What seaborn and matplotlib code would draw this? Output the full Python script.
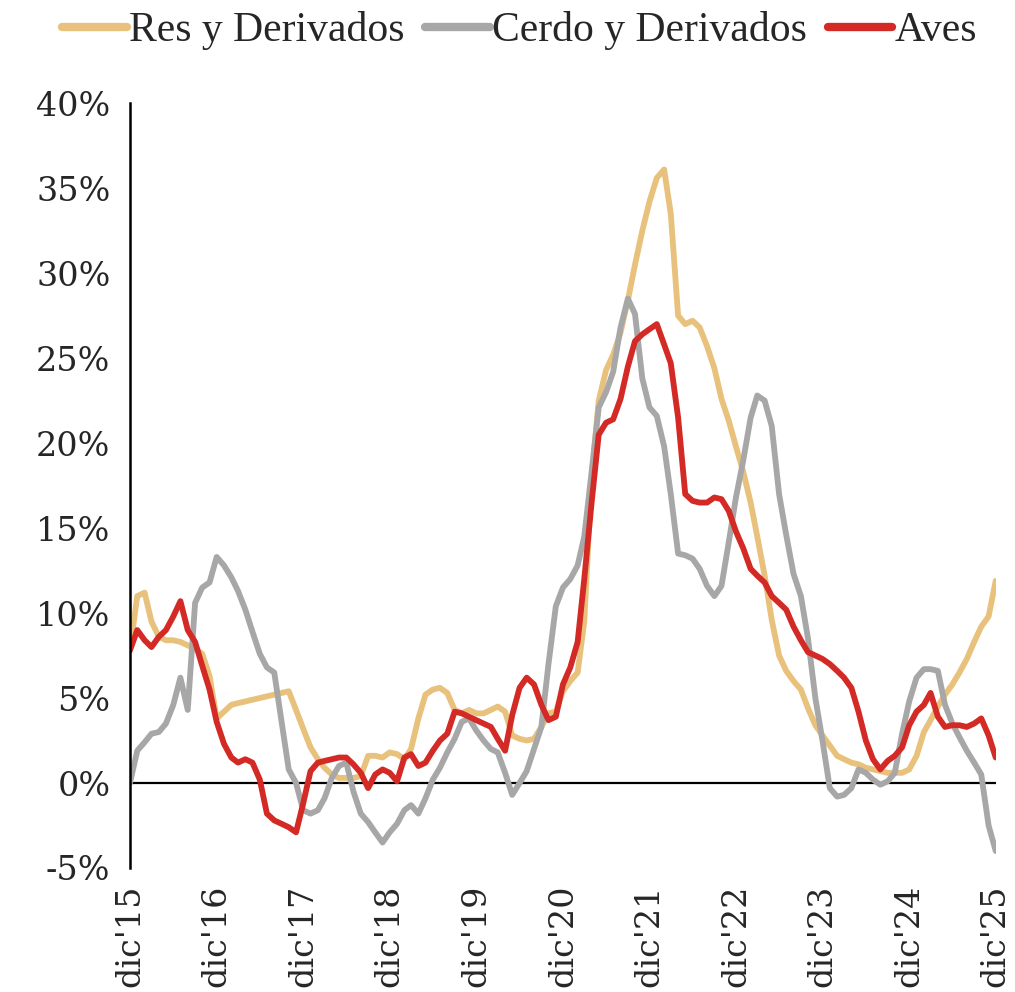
import pandas as pd
import matplotlib.pyplot as plt
import seaborn as sns

# variacion anual (%) mensual, dic'15 -> dic'25
res = [7.8, 11.0, 11.2, 9.5, 8.6, 8.4, 8.4, 8.3, 8.1, 7.9, 7.6, 6.3, 3.8, 4.2, 4.6, 4.7, 4.8, 4.9, 5.0, 5.1,
       5.2, 5.3, 5.4, 4.3, 3.2, 2.1, 1.4, 0.9, 0.5, 0.3, 0.3, 0.3, 0.4, 1.6, 1.6, 1.5, 1.8, 1.7, 1.4, 2.0,
       3.8, 5.2, 5.5, 5.6, 5.3, 4.3, 4.1, 4.3, 4.1, 4.1, 4.3, 4.5, 4.2, 2.8, 2.6, 2.5, 2.6, 3.3, 4.1, 4.2,
       5.4, 6.0, 6.5, 9.5, 18.0, 22.5, 24.3, 25.2, 26.5, 28.4, 30.5, 32.5, 34.2, 35.6, 36.1, 33.5, 27.5, 27.0, 27.2, 26.8,
       25.7, 24.4, 22.6, 21.3, 19.8, 18.3, 16.5, 14.5, 12.2, 9.6, 7.5, 6.6, 6.0, 5.5, 4.4, 3.4, 2.8, 2.2, 1.6, 1.4,
       1.2, 1.1, 0.9, 0.8, 0.7, 0.6, 0.6, 0.6, 0.8, 1.6, 3.0, 3.7, 4.5, 5.2, 5.8, 6.5, 7.3, 8.3, 9.2, 9.8,
       11.9]
cerdo = [0.0, 1.9, 2.4, 2.9, 3.0, 3.5, 4.6, 6.2, 4.3, 10.6, 11.5, 11.8, 13.3, 12.8, 12.1, 11.3, 10.2, 8.9, 7.6, 6.8,
         6.5, 3.6, 0.8, 0.0, -1.6, -1.8, -1.6, -0.9, 0.3, 1.0, 1.2, -0.5, -1.8, -2.3, -2.9, -3.5, -2.9, -2.4, -1.6, -1.3,
         -1.8, -0.9, 0.2, 0.9, 1.8, 2.6, 3.6, 3.8, 3.1, 2.5, 2.0, 1.8, 0.6, -0.7, 0.0, 0.7, 2.0, 3.3, 7.0, 10.4,
         11.5, 12.0, 12.8, 14.5, 18.3, 22.1, 23.0, 24.2, 26.8, 28.5, 27.6, 23.8, 22.1, 21.6, 19.8, 17.0, 13.5, 13.4, 13.2, 12.6,
         11.6, 11.0, 11.6, 14.2, 16.8, 19.0, 21.5, 22.8, 22.5, 21.0, 17.0, 14.6, 12.3, 11.0, 8.5, 5.0, 2.5, -0.3, -0.8, -0.7,
         -0.3, 0.8, 0.6, 0.2, -0.1, 0.1, 0.6, 2.9, 4.8, 6.2, 6.7, 6.7, 6.6, 4.6, 3.5, 2.7, 1.9, 1.2, 0.5, -2.5,
         -4.0]
aves = [7.8, 9.0, 8.4, 8.0, 8.6, 9.0, 9.8, 10.7, 9.0, 8.3, 6.9, 5.5, 3.6, 2.3, 1.5, 1.2, 1.4, 1.2, 0.2, -1.8,
        -2.2, -2.4, -2.6, -2.9, -1.2, 0.7, 1.2, 1.3, 1.4, 1.5, 1.5, 1.1, 0.6, -0.3, 0.5, 0.8, 0.6, 0.1, 1.5, 1.7,
        1.0, 1.2, 1.9, 2.5, 2.9, 4.2, 4.1, 3.9, 3.7, 3.5, 3.3, 2.6, 1.9, 4.0, 5.6, 6.2, 5.8, 4.6, 3.7, 3.9,
        5.8, 6.8, 8.3, 12.0, 16.5, 20.5, 21.2, 21.4, 22.6, 24.5, 26.0, 26.4, 26.7, 27.0, 25.8, 24.7, 21.5, 17.0, 16.6, 16.5,
        16.5, 16.8, 16.7, 16.0, 14.8, 13.8, 12.6, 12.2, 11.8, 11.0, 10.6, 10.2, 9.2, 8.4, 7.7, 7.5, 7.3, 7.0, 6.6, 6.2,
        5.6, 4.2, 2.5, 1.4, 0.8, 1.3, 1.6, 2.1, 3.4, 4.2, 4.6, 5.3, 3.9, 3.3, 3.4, 3.4, 3.3, 3.5, 3.8, 2.8,
        1.5]

fechas = pd.date_range("2015-12-01", periods=len(res), freq="MS")
series = ["Res y Derivados", "Cerdo y Derivados", "Aves"]
colores = ["#E8C27C", "#A7A7A7", "#D42A26"]

df = pd.DataFrame({"fecha": fechas, series[0]: res, series[1]: cerdo, series[2]: aves})
df = df.melt(id_vars="fecha", var_name="serie", value_name="var")

sns.set_style("white")
plt.rcParams["font.family"] = ["DejaVu Serif"]

fig = plt.figure(figsize=(10.15, 9.92), dpi=100)
ax = fig.add_axes([0.128, 0.125, 0.853, 0.771])

sns.lineplot(data=df, x="fecha", y="var", hue="serie", hue_order=series,
             palette=colores, linewidth=4.2, ax=ax, legend=True)

ax.axhline(0, color="black", lw=1.6, zorder=0)
ax.set_ylim(-5, 40)
ax.set_xlim(fechas[0], fechas[-1])
ax.set_yticks(range(-5, 41, 5))
ax.set_yticklabels([f"{v}%" for v in range(-5, 41, 5)], fontsize=24)

dics = fechas[::12]
ax.set_xticks(dics)
ax.set_xticklabels([f"dic'{d.year % 100:02d}" for d in dics], rotation=90, fontsize=24)
ax.tick_params(axis="both", length=0)
ax.tick_params(axis="x", pad=12)
ax.tick_params(axis="y", pad=14)
ax.set_xlabel("")
ax.set_ylabel("")

for s in ["top", "right", "bottom"]:
    ax.spines[s].set_visible(False)
ax.spines["left"].set_color("black")
ax.spines["left"].set_linewidth(1.8)

h, l = ax.get_legend_handles_labels()
ax.get_legend().remove()
for hh in h:
    hh.set_linewidth(6)
fig.legend(h, l, loc="center", bbox_to_anchor=(0.512, 0.969), ncol=3, frameon=False,
           prop={"family": "Liberation Serif", "size": 30}, handlelength=1.55,
           handletextpad=0.05, columnspacing=0.5, borderaxespad=0)

fig.savefig("out.png", dpi=100)
